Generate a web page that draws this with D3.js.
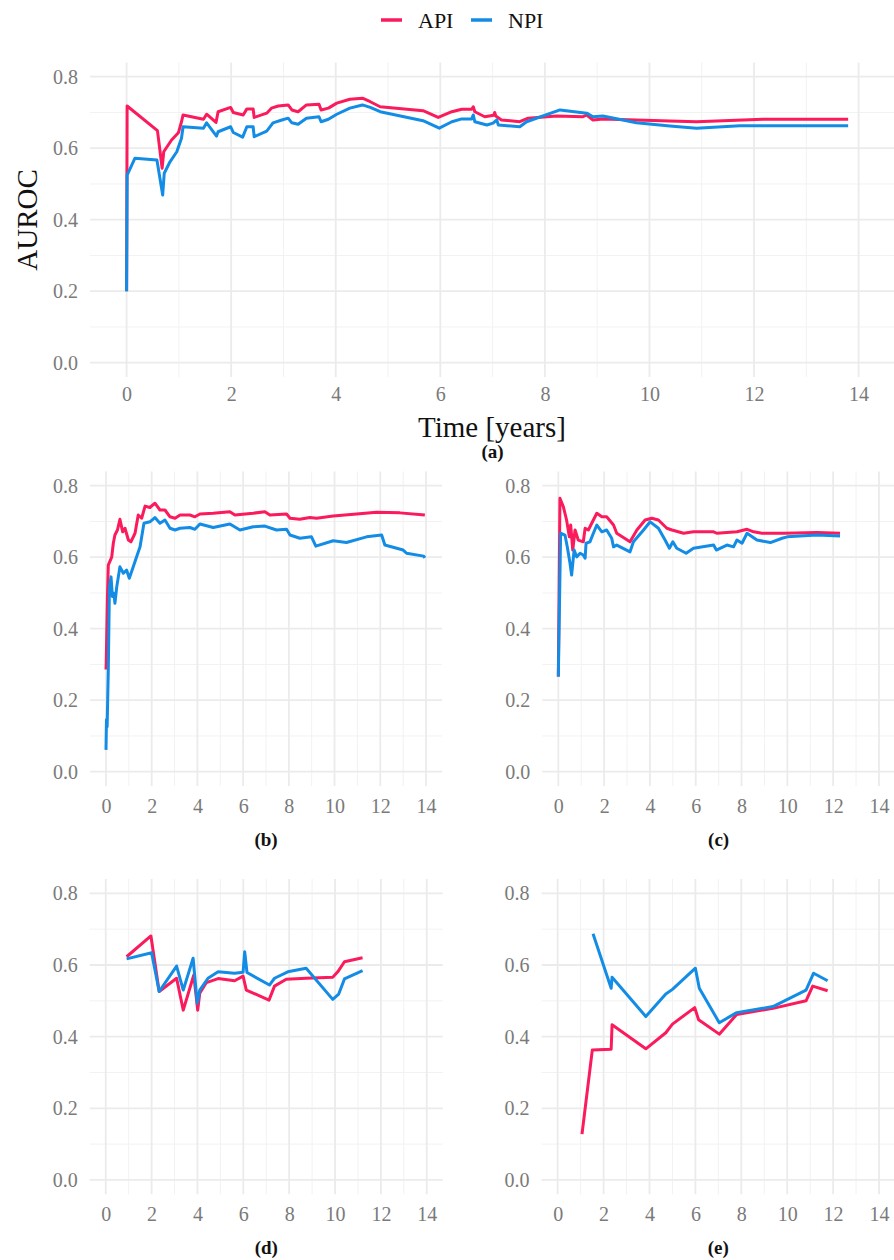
<!DOCTYPE html>
<html>
<head>
<meta charset="utf-8">
<script src="https://cdn.jsdelivr.net/npm/d3@7"></script>
<style>
  body { margin: 0; background: #fff; }
  svg text { font-family: "Liberation Serif", "DejaVu Serif", serif !important; }
</style>
</head>
<body>
<script>
// series: [time in years, AUROC]
var seriesNames = ["API", "NPI"];
var xTicks = [0, 2, 4, 6, 8, 10, 12, 14];
var yTicks = [0.0, 0.2, 0.4, 0.6, 0.8];
var panelTags = ["(a)", "(b)", "(c)", "(d)", "(e)"];

var apiA = [[0,0.2],[0.01,0.718],[0.59,0.649],[0.68,0.544],[0.71,0.59],[0.86,0.623],[0.99,0.643],[1.05,0.674],[1.08,0.693],[1.47,0.681],[1.53,0.695],[1.71,0.672],[1.75,0.702],[1.99,0.714],[2.04,0.7],[2.23,0.693],[2.3,0.71],[2.42,0.71],[2.44,0.686],[2.68,0.698],[2.77,0.712],[2.9,0.718],[3.09,0.721],[3.16,0.707],[3.28,0.702],[3.44,0.721],[3.68,0.723],[3.72,0.707],[3.86,0.712],[4.02,0.726],[4.27,0.737],[4.51,0.74],[4.66,0.73],[4.85,0.716],[5.67,0.705],[5.96,0.686],[6.22,0.702],[6.41,0.709],[6.6,0.709],[6.63,0.716],[6.66,0.702],[6.85,0.688],[7.02,0.692],[7.04,0.7],[7.06,0.69],[7.17,0.679],[7.52,0.674],[7.68,0.684],[8.22,0.69],[8.73,0.688],[8.8,0.693],[8.92,0.679],[9.11,0.682],[10.39,0.676],[10.9,0.674],[12.17,0.681],[13.8,0.681]];
var npiA = [[0,0.2],[0.01,0.525],[0.16,0.572],[0.58,0.567],[0.69,0.469],[0.72,0.53],[0.83,0.562],[0.96,0.59],[1.05,0.628],[1.08,0.66],[1.47,0.656],[1.53,0.671],[1.72,0.634],[1.75,0.646],[1.99,0.66],[2.04,0.644],[2.22,0.631],[2.3,0.66],[2.42,0.66],[2.44,0.632],[2.68,0.648],[2.8,0.671],[2.97,0.679],[3.09,0.684],[3.16,0.671],[3.28,0.667],[3.44,0.684],[3.68,0.688],[3.72,0.674],[3.86,0.681],[4.02,0.695],[4.27,0.712],[4.51,0.721],[4.66,0.714],[4.85,0.702],[5.67,0.677],[5.98,0.656],[6.22,0.674],[6.41,0.682],[6.6,0.682],[6.63,0.693],[6.66,0.674],[6.89,0.665],[7.01,0.67],[7.08,0.679],[7.11,0.665],[7.52,0.66],[7.65,0.674],[8.29,0.707],[8.8,0.698],[8.92,0.688],[9.11,0.69],[9.75,0.671],[10.39,0.662],[10.9,0.656],[11.73,0.663],[13.8,0.663]];

var apiB = [[0,0.286],[0.01,0.303],[0.06,0.48],[0.1,0.578],[0.25,0.6],[0.32,0.639],[0.39,0.662],[0.5,0.676],[0.61,0.706],[0.73,0.671],[0.83,0.681],[0.98,0.648],[1.09,0.643],[1.27,0.667],[1.41,0.718],[1.56,0.709],[1.71,0.743],[1.92,0.739],[2.14,0.751],[2.36,0.732],[2.58,0.732],[2.8,0.713],[3.02,0.709],[3.24,0.718],[3.67,0.718],[3.89,0.713],[4.11,0.721],[4.69,0.723],[5.42,0.727],[5.64,0.718],[6.44,0.723],[6.95,0.727],[7.17,0.718],[7.9,0.721],[8.05,0.709],[8.48,0.706],[8.92,0.711],[9.21,0.709],[9.94,0.715],[10.96,0.721],[11.84,0.726],[12.86,0.724],[13.95,0.718]];
var npiB = [[0,0.061],[0.02,0.145],[0.05,0.126],[0.1,0.284],[0.15,0.517],[0.22,0.545],[0.28,0.49],[0.35,0.499],[0.39,0.471],[0.47,0.517],[0.61,0.573],[0.76,0.555],[0.9,0.564],[1.02,0.541],[1.17,0.569],[1.34,0.601],[1.49,0.629],[1.66,0.695],[1.92,0.699],[2.14,0.711],[2.36,0.695],[2.58,0.704],[2.8,0.681],[3.02,0.676],[3.24,0.681],[3.67,0.683],[3.89,0.678],[4.11,0.693],[4.69,0.683],[5.42,0.693],[5.86,0.676],[6.44,0.685],[6.95,0.687],[7.46,0.676],[7.9,0.678],[8.05,0.662],[8.48,0.653],[8.99,0.657],[9.18,0.631],[9.94,0.646],[10.52,0.641],[11.4,0.657],[12.06,0.662],[12.2,0.634],[13.0,0.62],[13.15,0.611],[13.9,0.603],[13.95,0.598]];

var apiC = [[0,0.266],[0.07,0.765],[0.22,0.741],[0.36,0.704],[0.48,0.657],[0.54,0.69],[0.63,0.62],[0.73,0.676],[0.87,0.648],[1.09,0.643],[1.17,0.681],[1.31,0.676],[1.53,0.704],[1.68,0.723],[1.9,0.713],[2.11,0.713],[2.41,0.69],[2.55,0.667],[3.13,0.643],[3.43,0.676],[3.79,0.704],[4.08,0.709],[4.37,0.704],[4.74,0.681],[4.96,0.676],[5.47,0.667],[5.9,0.671],[6.78,0.671],[6.92,0.667],[7.8,0.671],[8.24,0.678],[8.53,0.671],[8.89,0.667],[9.84,0.667],[11.3,0.669],[12.3,0.667]];
var npiC = [[0,0.266],[0.1,0.667],[0.29,0.662],[0.39,0.629],[0.51,0.583],[0.58,0.55],[0.69,0.62],[0.8,0.601],[0.95,0.611],[1.09,0.606],[1.17,0.597],[1.21,0.639],[1.38,0.643],[1.53,0.667],[1.68,0.69],[1.9,0.671],[2.11,0.676],[2.33,0.653],[2.41,0.629],[2.55,0.634],[3.13,0.615],[3.28,0.643],[3.72,0.676],[4.01,0.699],[4.37,0.681],[4.66,0.648],[4.85,0.625],[5.0,0.643],[5.17,0.625],[5.58,0.611],[5.9,0.625],[6.78,0.634],[6.9,0.62],[7.36,0.634],[7.65,0.629],[7.8,0.648],[8.02,0.639],[8.24,0.667],[8.67,0.648],[9.26,0.641],[9.77,0.653],[9.99,0.657],[11.3,0.662],[12.3,0.659]];

var apiD = [[0.91,0.623],[1.97,0.681],[2.33,0.526],[3.09,0.563],[3.38,0.474],[3.84,0.572],[4.01,0.474],[4.1,0.521],[4.39,0.551],[4.9,0.562],[5.62,0.556],[5.99,0.569],[6.13,0.53],[7.12,0.502],[7.36,0.541],[7.87,0.56],[8.74,0.563],[9.9,0.566],[10.12,0.581],[10.41,0.609],[11.2,0.62]];
var npiD = [[0.91,0.617],[2.0,0.634],[2.33,0.526],[3.09,0.597],[3.38,0.53],[3.81,0.619],[3.99,0.493],[4.1,0.53],[4.46,0.563],[4.9,0.581],[5.62,0.577],[5.99,0.58],[6.06,0.637],[6.16,0.579],[7.14,0.544],[7.36,0.563],[7.94,0.581],[8.74,0.591],[9.9,0.504],[10.16,0.519],[10.41,0.561],[11.2,0.584]];

var apiE = [[1.06,0.128],[1.51,0.363],[2.33,0.365],[2.37,0.433],[3.84,0.366],[4.71,0.411],[5.0,0.435],[5.97,0.481],[6.14,0.447],[7.04,0.407],[7.8,0.462],[9.38,0.479],[10.82,0.5],[11.11,0.541],[11.76,0.528]];
var npiE = [[1.54,0.687],[2.33,0.535],[2.37,0.566],[3.84,0.456],[4.71,0.519],[5.0,0.532],[6.0,0.591],[6.17,0.535],[7.04,0.439],[7.8,0.467],[9.38,0.484],[10.82,0.53],[11.15,0.577],[11.76,0.556]];

var colors = { API: "#fb1a5b", NPI: "#138ce6" };

var W = 894, H = 1260;
var svg = d3.select("body").append("svg")
    .attr("width", W)
    .attr("height", H);

// panel boxes in pixels (plot area, incl. ggplot expansion)
var panels = [
    { tag: 0, api: apiA, npi: npiA, x: [90, 895.2], y: [377, 62.4], labelPad: 10, tagY: 452 },
    { tag: 1, api: apiB, npi: npiB, x: [90, 442], y: [786, 471.4], labelPad: 13, tagY: 840 },
    { tag: 2, api: apiC, npi: npiC, x: [542.3, 895], y: [786, 471.4], labelPad: 13, tagY: 840 },
    { tag: 3, api: apiD, npi: npiD, x: [89.7, 442.8], y: [1194.3, 879], labelPad: 13, tagY: 1248 },
    { tag: 4, api: apiE, npi: npiE, x: [541.6, 895.1], y: [1194.3, 879], labelPad: 13, tagY: 1248 }
];

panels.forEach(function (p) {
    var x = d3.scaleLinear().domain([-0.7, 14.7]).range(p.x);
    var y = d3.scaleLinear().domain([-0.04, 0.84]).range(p.y);
    var g = svg.append("g");

    var minorX = d3.range(1, 14, 2), minorY = [0.1, 0.3, 0.5, 0.7];
    var grid = g.append("g");
    grid.selectAll(".mx").data(minorX).enter().append("line")
        .attr("x1", d => x(d)).attr("x2", d => x(d))
        .attr("y1", p.y[0]).attr("y2", p.y[1])
        .attr("stroke", "#f2f2f2").attr("stroke-width", 1);
    grid.selectAll(".my").data(minorY).enter().append("line")
        .attr("y1", d => y(d)).attr("y2", d => y(d))
        .attr("x1", p.x[0]).attr("x2", p.x[1])
        .attr("stroke", "#f2f2f2").attr("stroke-width", 1);
    grid.selectAll(".gx").data(xTicks).enter().append("line")
        .attr("x1", d => x(d)).attr("x2", d => x(d))
        .attr("y1", p.y[0]).attr("y2", p.y[1])
        .attr("stroke", "#ebebeb").attr("stroke-width", 1.8);
    grid.selectAll(".gy").data(yTicks).enter().append("line")
        .attr("y1", d => y(d)).attr("y2", d => y(d))
        .attr("x1", p.x[0]).attr("x2", p.x[1])
        .attr("stroke", "#ebebeb").attr("stroke-width", 1.8);

    g.append("g")
        .attr("transform", "translate(" + p.x[0] + ",0)")
        .call(d3.axisLeft(y).tickValues(yTicks).tickFormat(d3.format(".1f")).tickSize(0).tickPadding(12));
    g.append("g")
        .attr("transform", "translate(0," + p.y[0] + ")")
        .call(d3.axisBottom(x).tickValues(xTicks).tickSize(0).tickPadding(p.labelPad));
    g.selectAll(".domain").remove();
    g.selectAll(".tick text")
        .attr("fill", "#7a7a7a")
        .style("font-size", "20px");

    var line = d3.line().x(d => x(d[0])).y(d => y(d[1]));
    [["API", p.api], ["NPI", p.npi]].forEach(function (s) {
        g.append("path")
            .datum(s[1])
            .attr("d", line)
            .attr("fill", "none")
            .attr("stroke", colors[s[0]])
            .attr("stroke-width", 3)
            .attr("stroke-linejoin", "round");
    });

    svg.append("text")
        .attr("x", (p.x[0] + p.x[1]) / 2)
        .attr("y", p.tagY + 6)
        .attr("text-anchor", "middle")
        .style("font-weight", "bold")
        .style("font-size", "19px")
        .attr("fill", "#111")
        .text(panelTags[p.tag]);
});

// titles of the top panel
svg.append("text")
    .attr("x", 492)
    .attr("y", 437)
    .attr("text-anchor", "middle")
    .style("font-size", "29px")
    .attr("fill", "#111")
    .text("Time [years]");
svg.append("text")
    .attr("transform", "translate(37,220) rotate(-90)")
    .attr("text-anchor", "middle")
    .style("font-size", "29px")
    .attr("fill", "#111")
    .text("AUROC");

// legend
var legend = svg.append("g").attr("transform", "translate(381,20)");
seriesNames.forEach(function (name, i) {
    var item = legend.append("g").attr("transform", "translate(" + (i * 90) + ",0)");
    item.append("line")
        .attr("x1", 0).attr("x2", 21)
        .attr("stroke", colors[name]).attr("stroke-width", 3.5);
    item.append("text")
        .attr("x", 37)
        .attr("y", 7.5)
        .style("font-size", "22px")
        .attr("fill", "#111")
        .text(name);
});
</script>
</body>
</html>
